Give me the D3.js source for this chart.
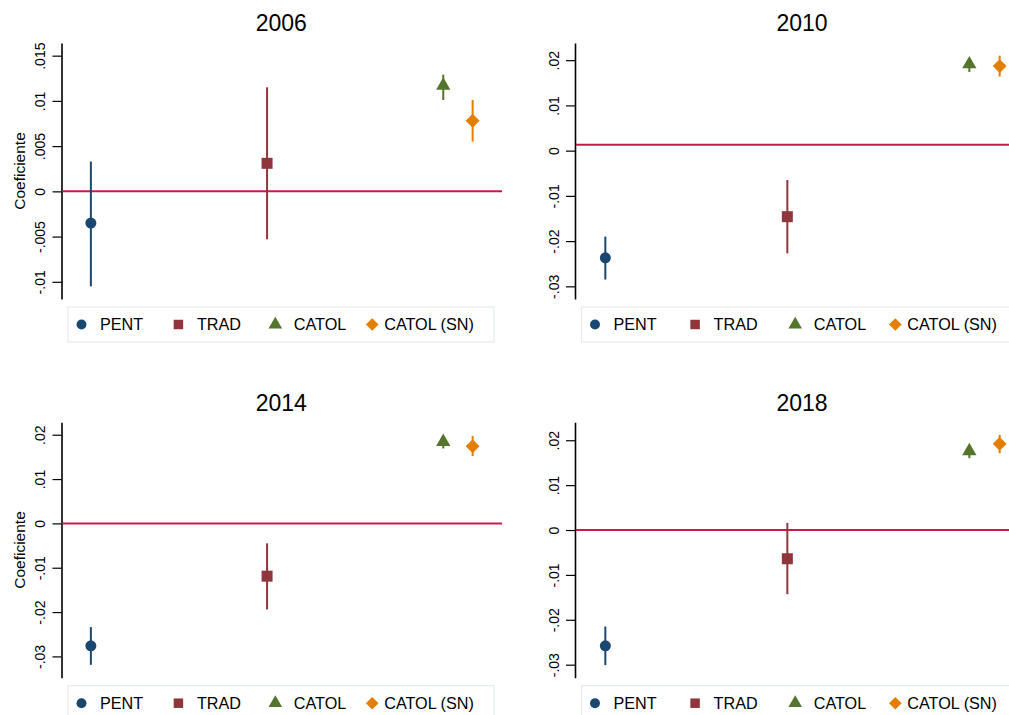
<!DOCTYPE html>
<html>
<head>
<meta charset="utf-8">
<script src="https://cdn.jsdelivr.net/npm/d3@7"></script>
<style>
  html, body { margin: 0; padding: 0; background: #fff; }
  svg { display: block; font-family: "Liberation Sans", Arial, sans-serif; }
</style>
</head>
<body>
<svg id="chart" width="1009" height="715"></svg>
<script>
// Religious affiliation coefficients with 95% confidence intervals, by survey year
const years = ["2006", "2010", "2014", "2018"];
const groups = ["PENT", "TRAD", "CATOL", "CATOL (SN)"];
const groupPos = [1, 4, 7, 7.5];
const groupColors = ["#1a476f", "#90353b", "#55752f", "#e37e00"];
const groupShapes = ["circle", "square", "triangle", "diamond"];

// Point estimates (PENT, TRAD, CATOL, CATOL (SN))
const est2006 = [-0.0035, 0.0031, 0.0117, 0.0078];
const est2010 = [-0.0237, -0.0146, 0.0191, 0.0187];
const est2014 = [-0.0276, -0.0119, 0.0184, 0.0174];
const est2018 = [-0.0258, -0.0064, 0.0176, 0.0192];

// Lower confidence bounds
const lo2006 = [-0.0105, -0.0053, 0.0101, 0.0055];
const lo2010 = [-0.0285, -0.0227, 0.0174, 0.0164];
const lo2014 = [-0.0319, -0.0194, 0.0169, 0.0152];
const lo2018 = [-0.0301, -0.0143, 0.0160, 0.0171];

// Upper confidence bounds
const hi2006 = [0.0033, 0.0115, 0.0129, 0.0101];
const hi2010 = [-0.0190, -0.0065, 0.0202, 0.0210];
const hi2014 = [-0.0234, -0.0045, 0.0194, 0.0197];
const hi2018 = [-0.0215, 0.0016, 0.0186, 0.0212];

// Horizontal reference line per panel
const refLine = [0, 0.0013, 0, 0];

// Y-axis ticks
const ticks2006 = [-0.01, -0.005, 0, 0.005, 0.01, 0.015];
const ticksOther = [-0.03, -0.02, -0.01, 0, 0.01, 0.02];

const estimates = [est2006, est2010, est2014, est2018];
const lowers = [lo2006, lo2010, lo2014, lo2018];
const uppers = [hi2006, hi2010, hi2014, hi2018];
const tickSets = [ticks2006, ticksOther, ticksOther, ticksOther];
const yDomains = [[-0.0119, 0.0164], [-0.0328, 0.0238], [-0.0348, 0.0228], [-0.0329, 0.0240]];
const showYTitle = [true, false, true, false];

// Panel frames: axis x, right edge of plot, top and bottom of plot area
const frames = [
  { left: 61.5, right: 502, top: 43, bottom: 299, titleY: 23 },
  { left: 575, right: 1030, top: 43, bottom: 299, titleY: 23 },
  { left: 61.5, right: 502, top: 422.3, bottom: 677.7, titleY: 403 },
  { left: 575, right: 1030, top: 422.3, bottom: 677.7, titleY: 403 }
];

const svg = d3.select("#chart");

const symbolType = {
  circle: d3.symbolCircle,
  square: d3.symbolSquare,
  triangle: d3.symbolTriangle,
  diamond: d3.symbolSquare
};

function markerPath(shape, big) {
  const sizes = big
    ? { circle: 95, square: 121, triangle: 88, diamond: 96 }
    : { circle: 78, square: 90, triangle: 80, diamond: 80 };
  return d3.symbol().type(symbolType[shape]).size(sizes[shape])();
}
function markerRotate(shape) { return shape === "diamond" ? " rotate(45)" : ""; }

// Stata-style tick labels: ".01", "-.005", "0"
const fmtTick = v => {
  if (Math.abs(v) < 1e-12) return "0";
  return String(+v.toFixed(4)).replace(/^(-?)0\./, "$1.");
};

years.forEach((year, p) => {
  const f = frames[p];
  const g = svg.append("g");

  const x = d3.scaleLinear().domain([0.5, 8]).range([f.left, f.right]);
  const y = d3.scaleLinear().domain(yDomains[p]).range([f.bottom, f.top]);

  // Title
  g.append("text")
    .attr("x", (f.left + f.right) / 2 - 0.5)
    .attr("y", f.titleY)
    .attr("dy", "0.36em")
    .attr("text-anchor", "middle")
    .attr("font-size", 23)
    .attr("fill", "#000")
    .text(year);

  // Y axis
  const axis = g.append("g")
    .attr("transform", `translate(${f.left},0)`)
    .call(d3.axisLeft(y).tickValues(tickSets[p]).tickFormat(fmtTick).tickSize(9).tickSizeOuter(0));
  axis.select(".domain").attr("stroke", "#000").attr("stroke-width", 1.6);
  axis.selectAll(".tick line").attr("stroke", "#000").attr("stroke-width", 1.2);
  axis.selectAll(".tick text")
    .attr("transform", "rotate(-90)")
    .attr("x", 0)
    .attr("y", -16.5)
    .attr("dy", 0)
    .attr("text-anchor", "middle")
    .attr("font-size", 14)
    .attr("font-family", "\"Liberation Sans\", Arial, sans-serif")
    .attr("fill", "#000");

  if (showYTitle[p]) {
    g.append("text")
      .attr("transform", `translate(${f.left - 37},${(f.top + f.bottom) / 2}) rotate(-90)`)
      .attr("text-anchor", "middle")
      .attr("font-size", 15.5)
      .attr("fill", "#000")
      .text("Coeficiente");
  }

  // Reference line
  g.append("line")
    .attr("x1", f.left + 1).attr("x2", f.right)
    .attr("y1", y(refLine[p])).attr("y2", y(refLine[p]))
    .attr("stroke", "#c81a4a")
    .attr("stroke-width", 2);

  // Confidence intervals
  groups.forEach((name, i) => {
    g.append("line")
      .attr("x1", x(groupPos[i])).attr("x2", x(groupPos[i]))
      .attr("y1", y(lowers[p][i])).attr("y2", y(uppers[p][i]))
      .attr("stroke", groupColors[i])
      .attr("stroke-width", 2);
  });

  // Point estimates
  groups.forEach((name, i) => {
    g.append("path")
      .attr("d", markerPath(groupShapes[i], true))
      .attr("transform", `translate(${x(groupPos[i])},${y(estimates[p][i])})${markerRotate(groupShapes[i])}`)
      .attr("fill", groupColors[i]);
  });

  // Legend
  const plotW = f.right - f.left;
  const lx = f.left + 6.5;
  const ly = f.bottom + 8;
  const legend = g.append("g");
  legend.append("rect")
    .attr("x", lx).attr("y", ly)
    .attr("width", plotW * 0.967).attr("height", 35)
    .attr("fill", "#fff")
    .attr("stroke", "#e4ecef")
    .attr("stroke-width", 1.2);
  const step = plotW * 0.22;
  groups.forEach((name, i) => {
    const mx = lx + 13.5 + i * step;
    const my = ly + 17.5;
    legend.append("path")
      .attr("d", markerPath(groupShapes[i], false))
      .attr("transform", `translate(${mx},${my})${markerRotate(groupShapes[i])}`)
      .attr("fill", groupColors[i]);
    legend.append("text")
      .attr("x", mx + (i === 3 ? 12 : 18.5))
      .attr("y", my)
      .attr("dy", "0.36em")
      .attr("font-size", 16.2)
      .attr("fill", "#000")
      .text(name);
  });
});
</script>
</body>
</html>
